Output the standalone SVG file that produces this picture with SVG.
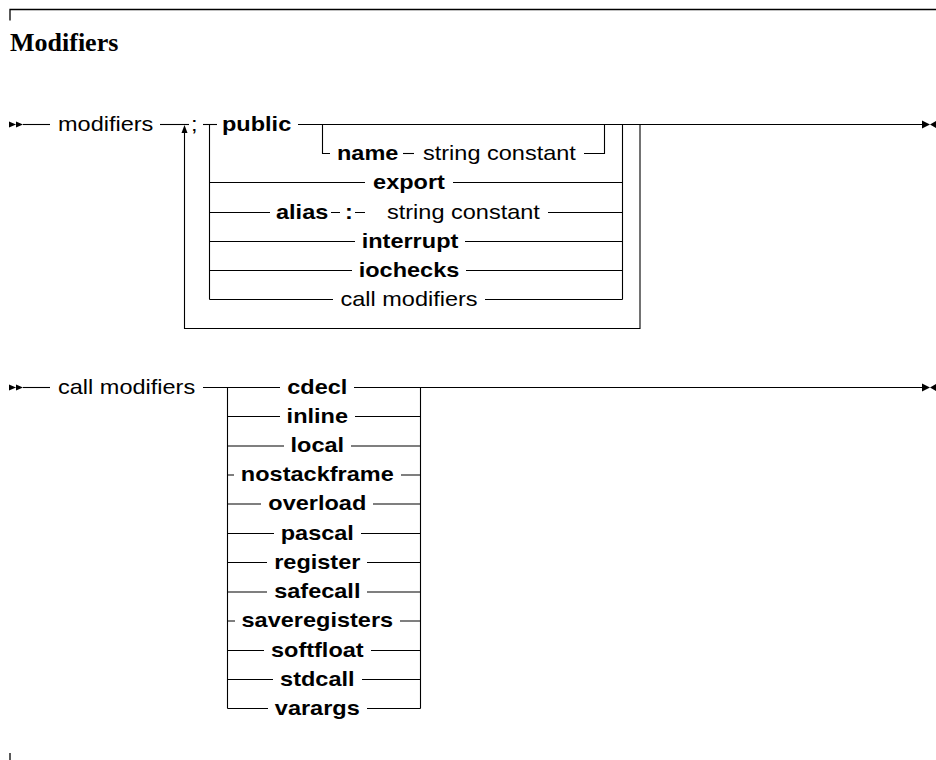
<svg xmlns="http://www.w3.org/2000/svg" width="936" height="760" viewBox="0 0 936 760">
<style>
  .ln{fill:none;stroke:#000;stroke-width:1.1}
  .fr{fill:none;stroke:#000;stroke-width:1.3}
  .ah{fill:#000;stroke:none}
  text{font-family:"Liberation Sans",Arial,Helvetica,sans-serif;font-size:21px;fill:#000}
  .b{font-weight:bold}
  .m{text-anchor:middle}
  .title{font-family:"Liberation Serif","Times New Roman",serif;font-size:26px;font-weight:bold}
</style>
<rect width="936" height="760" fill="#fff"/>
<g id="frame">
  <path class="fr" d="M10,20.5 V9.5 H936"/>
  <path class="fr" d="M10,753 V760"/>
  <text class="title" x="10" y="51">Modifiers</text>
</g>

<g id="connectors">
  <!-- modifiers diagram -->
  <path class="ah" d="M9,121.5 L16,124.5 L9,127.5 Z M16,121.5 L23,124.5 L16,127.5 Z"/>
  <path class="ln" d="M23,124.5 H50"/>
  <path class="ln" d="M160,124.5 H189"/>
  <path class="ln" d="M203,124.5 H217"/>
  <path class="ln" d="M298,124.5 H923"/>
  <path class="ah" d="M922,120.5 L930,124.5 L922,128.5 Z M936,121 L930,124.5 L936,128 Z"/>
  <path class="ln" d="M640,124.5 V328.5 H184.5 V132"/>
  <path class="ah" d="M184.5,125 L181.5,133 L187.5,133 Z"/>
  <path class="ln" d="M209.5,124.5 V299.5"/>
  <path class="ln" d="M622.5,124.5 V299.5"/>
  <path class="ln" d="M322.5,124.5 V153.5 H330"/>
  <path class="ln" d="M403,153.5 H414"/>
  <path class="ln" d="M584,153.5 H604.5 V124.5"/>
  <path class="ln" d="M209.5,182.5 H365 M453,182.5 H622.5"/>
  <path class="ln" d="M209.5,212.5 H270 M331,212.5 H340 M355,212.5 H365 M548,212.5 H622.5"/>
  <path class="ln" d="M209.5,241.5 H355 M465,241.5 H622.5"/>
  <path class="ln" d="M209.5,270.5 H352 M466,270.5 H622.5"/>
  <path class="ln" d="M209.5,299.5 H333 M485,299.5 H622.5"/>

  <!-- call modifiers diagram -->
  <path class="ah" d="M9,384.5 L16,387.5 L9,390.5 Z M16,384.5 L23,387.5 L16,390.5 Z"/>
  <path class="ln" d="M23,387.5 H50"/>
  <path class="ln" d="M203,387.5 H280"/>
  <path class="ln" d="M354,387.5 H923"/>
  <path class="ah" d="M922,383.5 L930,387.5 L922,391.5 Z M936,384 L930,387.5 L936,391 Z"/>
  <path class="ln" d="M227.5,387.5 V708.5"/>
  <path class="ln" d="M420.5,387.5 V708.5"/>
  <path class="ln" d="M227.5,416.5 H280 M355,416.5 H420.5"/>
  <path class="ln" d="M227.5,446 H284 M351,446 H420.5"/>
  <path class="ln" d="M227.5,475 H234 M401,475 H420.5"/>
  <path class="ln" d="M227.5,504 H261 M373,504 H420.5"/>
  <path class="ln" d="M227.5,533.5 H274 M361,533.5 H420.5"/>
  <path class="ln" d="M227.5,562.5 H267 M367,562.5 H420.5"/>
  <path class="ln" d="M227.5,592 H267 M367,592 H420.5"/>
  <path class="ln" d="M227.5,621 H235 M400,621 H420.5"/>
  <path class="ln" d="M227.5,650.5 H264 M371,650.5 H420.5"/>
  <path class="ln" d="M227.5,679.5 H273 M362,679.5 H420.5"/>
  <path class="ln" d="M227.5,708.5 H268 M367,708.5 H420.5"/>
</g>

<g id="n-modifiers"><text transform="translate(58,130.5) scale(1.12,1)">modifiers</text></g>
<g id="n-semicolon"><text transform="translate(191,130.5) scale(1.12,1)">;</text></g>
<g id="n-public"><text class="b" transform="translate(222,130.5) scale(1.12,1)">public</text></g>
<g id="n-name"><text class="b" transform="translate(337,159.5) scale(1.12,1)">name</text></g>
<g id="n-name-string"><text transform="translate(423,159.5) scale(1.12,1)">string constant</text></g>
<g id="n-export"><text class="b m" transform="translate(409,188.5) scale(1.12,1)">export</text></g>
<g id="n-alias"><text class="b" transform="translate(276,218.5) scale(1.12,1)">alias</text></g>
<g id="n-colon"><text class="b" transform="translate(345,218.5) scale(1.12,1)">:</text></g>
<g id="n-alias-string"><text transform="translate(387,218.5) scale(1.12,1)">string constant</text></g>
<g id="n-interrupt"><text class="b m" transform="translate(410,247.5) scale(1.12,1)">interrupt</text></g>
<g id="n-iochecks"><text class="b m" transform="translate(409,276.5) scale(1.12,1)">iochecks</text></g>
<g id="n-callmod-ref"><text class="m" transform="translate(409,305.5) scale(1.12,1)">call modifiers</text></g>

<g id="n-callmodifiers"><text transform="translate(58,393.5) scale(1.12,1)">call modifiers</text></g>
<g id="n-cdecl"><text class="b m" transform="translate(317.3,393.5) scale(1.12,1)">cdecl</text></g>
<g id="n-inline"><text class="b m" transform="translate(317.3,422.5) scale(1.12,1)">inline</text></g>
<g id="n-local"><text class="b m" transform="translate(317.3,452) scale(1.12,1)">local</text></g>
<g id="n-nostackframe"><text class="b m" transform="translate(317.3,481) scale(1.12,1)">nostackframe</text></g>
<g id="n-overload"><text class="b m" transform="translate(317.3,510) scale(1.12,1)">overload</text></g>
<g id="n-pascal"><text class="b m" transform="translate(317.3,539.5) scale(1.12,1)">pascal</text></g>
<g id="n-register"><text class="b m" transform="translate(317.3,568.5) scale(1.12,1)">register</text></g>
<g id="n-safecall"><text class="b m" transform="translate(317.3,598) scale(1.12,1)">safecall</text></g>
<g id="n-saveregisters"><text class="b m" transform="translate(317.3,627) scale(1.12,1)">saveregisters</text></g>
<g id="n-softfloat"><text class="b m" transform="translate(317.3,656.5) scale(1.12,1)">softfloat</text></g>
<g id="n-stdcall"><text class="b m" transform="translate(317.3,685.5) scale(1.12,1)">stdcall</text></g>
<g id="n-varargs"><text class="b m" transform="translate(317.3,714.5) scale(1.12,1)">varargs</text></g>
</svg>
